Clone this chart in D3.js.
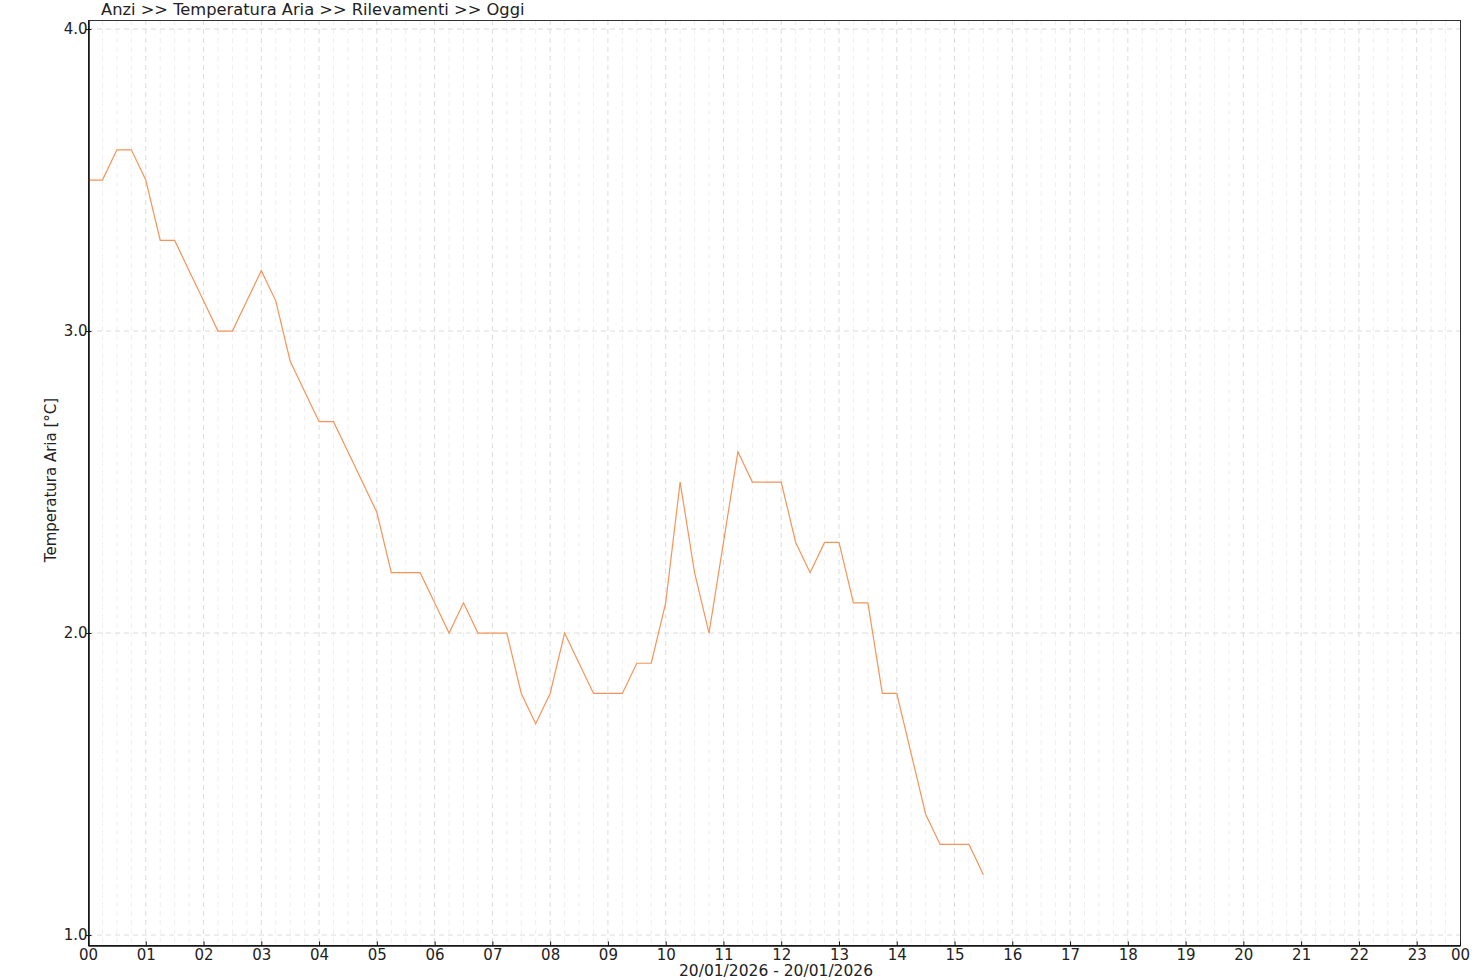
<!DOCTYPE html>
<html>
<head>
<meta charset="utf-8">
<script src="https://cdn.jsdelivr.net/npm/d3@7"></script>
<style>
  body { margin: 0; background: #fff; }
  svg text { font-family: "DejaVu Sans", Verdana, sans-serif; fill: #222; }
  .grid-major line { stroke: #dcdcdc; stroke-dasharray: 5,4; }
  .grid-minor line { stroke: #efefef; stroke-dasharray: 5,4; }
</style>
</head>
<body>
<svg id="chart" width="1480" height="980"></svg>
<script>
// readings every 15 minutes starting 00:00
const times = ["00:00","00:15","00:30","00:45","01:00","01:15","01:30","01:45",
  "02:00","02:15","02:30","02:45","03:00","03:15","03:30","03:45",
  "04:00","04:15","04:30","04:45","05:00","05:15","05:30","05:45",
  "06:00","06:15","06:30","06:45","07:00","07:15","07:30","07:45",
  "08:00","08:15","08:30","08:45","09:00","09:15","09:30","09:45",
  "10:00","10:15","10:30","10:45","11:00","11:15","11:30","11:45",
  "12:00","12:15","12:30","12:45","13:00","13:15","13:30","13:45",
  "14:00","14:15","14:30","14:45","15:00","15:15","15:30"];
const temps = [3.5,3.5,3.6,3.6,3.5,3.3,3.3,3.2,
  3.1,3.0,3.0,3.1,3.2,3.1,2.9,2.8,
  2.7,2.7,2.6,2.5,2.4,2.2,2.2,2.2,
  2.1,2.0,2.1,2.0,2.0,2.0,1.8,1.7,
  1.8,2.0,1.9,1.8,1.8,1.8,1.9,1.9,
  2.1,2.5,2.2,2.0,2.3,2.6,2.5,2.5,
  2.5,2.3,2.2,2.3,2.3,2.1,2.1,1.8,
  1.8,1.6,1.4,1.3,1.3,1.3,1.2];
const yTicks = [1.0, 2.0, 3.0, 4.0];
const hourLabels = ["00","01","02","03","04","05","06","07","08","09","10","11",
  "12","13","14","15","16","17","18","19","20","21","22","23","00"];
const title = "Anzi >> Temperatura Aria >> Rilevamenti >> Oggi";
const yLabel = "Temperatura Aria [°C]";
const xLabel = "20/01/2026 - 20/01/2026";

const margin = {top: 20, right: 20, bottom: 35, left: 88};
const width = 1480, height = 980;
const svg = d3.select("svg#chart");

const toHours = s => { const p = s.split(":"); return +p[0] + (+p[1]) / 60; };
const data = times.map((t, i) => ({h: toHours(t), v: temps[i]}));

// axis runs from 00:00 to 23:45, last tick labelled "00"
const x = d3.scaleLinear().domain([0, 23.75]).range([margin.left, width - margin.right]);
const y = d3.scaleLinear().domain([0.967, 4.03]).range([height - margin.bottom, margin.top]);

const hourTicks = d3.range(0, 24).concat([23.75]);
const minorTicks = d3.range(0, 23.75, 0.25).filter(h => h % 1 !== 0);

// minor grid (15 minutes)
svg.append("g").attr("class", "grid-minor")
  .selectAll("line").data(minorTicks).enter().append("line")
  .attr("x1", d => x(d)).attr("x2", d => x(d))
  .attr("y1", margin.top).attr("y2", height - margin.bottom);

// major grid
const gMaj = svg.append("g").attr("class", "grid-major");
gMaj.selectAll("line.v").data(d3.range(1, 24)).enter().append("line").attr("class", "v")
  .attr("x1", d => x(d)).attr("x2", d => x(d))
  .attr("y1", margin.top).attr("y2", height - margin.bottom);
gMaj.selectAll("line.h").data(yTicks).enter().append("line").attr("class", "h")
  .attr("x1", margin.left).attr("x2", width - margin.right)
  .attr("y1", d => y(d)).attr("y2", d => y(d));

// frame
svg.append("rect")
  .attr("x", margin.left + 0.5).attr("y", margin.top + 0.5)
  .attr("width", width - margin.left - margin.right)
  .attr("height", height - margin.top - margin.bottom)
  .attr("fill", "none").attr("stroke", "#333");

// line
const line = d3.line().x(d => x(d.h)).y(d => y(d.v));
svg.append("path").datum(data)
  .attr("d", line).attr("fill", "none")
  .attr("stroke", "#f5945a").attr("stroke-width", 1.2);

// x axis
const xAxis = d3.axisBottom(x).tickValues(hourTicks)
  .tickFormat((d, i) => hourLabels[i]).tickSizeInner(-4).tickSizeOuter(0).tickPadding(7);
const gx = svg.append("g").attr("transform", translate(0, height - margin.bottom + 0.5)).call(xAxis);
gx.select(".domain").attr("stroke", "#111").attr("stroke-width", 1.5);
gx.selectAll(".tick line").attr("stroke", "#111");
gx.selectAll("text").attr("font-size", 15).attr("dy", "0.5em");

// y axis
const yAxis = d3.axisLeft(y).tickValues(yTicks).tickFormat(d3.format(".1f"))
  .tickSizeInner(3).tickSizeOuter(0).tickPadding(0);
const gy = svg.append("g").attr("transform", translate(margin.left + 0.5, 0)).call(yAxis);
gy.select(".domain").attr("stroke", "#111").attr("stroke-width", 1.5);
gy.selectAll(".tick line").attr("stroke", "#111").attr("x2", 3).attr("x1", -3);
gy.selectAll("text").attr("font-size", 15).attr("x", -1);

// titles
svg.append("text").attr("x", 101).attr("y", 15).attr("font-size", 16.3).text(title);
svg.append("text").attr("font-size", 15).attr("text-anchor", "middle")
  .attr("transform", "translate(56," + 480 + ") rotate(-90)")
  .text(yLabel);
svg.append("text").attr("x", 776).attr("y", 976).attr("font-size", 15.5)
  .attr("text-anchor", "middle").text(xLabel);

function translate(x, y) {
  return "translate(" + String(x) + "," + String(y) + ")";
}
</script>
</body>
</html>
